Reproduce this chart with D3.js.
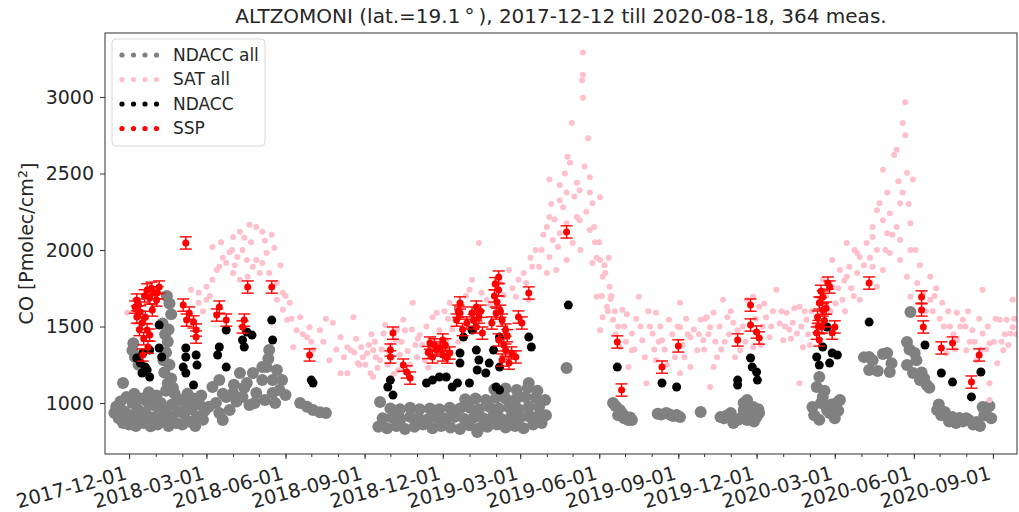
<!DOCTYPE html>
<html>
<head>
<meta charset="utf-8">
<script src="https://cdn.jsdelivr.net/npm/d3@7"></script>
<style>
  body { margin: 0; background: #fff; }
  svg { display: block; }
  text { font-family: "DejaVu Sans", sans-serif; }
</style>
</head>
<body>
<svg id="chart" width="1019" height="512"></svg>
<script>
// ---- data: [date, CO column in Pmolec/cm2] ----
const ndaccAll = [
  ["2017-11-14",935],["2017-11-16",975],["2017-11-19",900],["2017-11-21",1010],["2017-11-24",870],["2017-11-26",945],
  ["2017-11-28",1040],["2017-12-01",860],["2017-12-03",920],["2017-12-05",1000],["2017-12-07",1060],["2017-12-09",850],
  ["2017-12-11",960],["2017-12-13",895],["2017-12-15",1030],["2017-12-18",870],["2017-12-20",940],["2017-12-22",1010],
  ["2017-12-24",1070],["2017-12-26",848],["2017-12-28",905],["2017-12-30",985],["2018-01-02",1050],["2018-01-03",860],
  ["2018-01-05",930],["2018-01-07",1000],["2018-01-09",880],["2018-01-11",960],["2018-01-13",1080],["2018-01-15",1130],
  ["2018-01-16",850],["2018-01-18",915],["2018-01-20",990],["2018-01-23",1060],["2018-01-25",870],["2018-01-27",945],
  ["2018-01-29",1020],["2018-02-01",860],["2018-02-03",930],["2018-02-05",1000],["2018-02-07",1060],["2018-02-09",880],
  ["2018-02-12",960],["2018-02-14",1030],["2018-02-16",850],["2018-02-18",910],["2018-02-21",990],["2018-02-23",1050],
  ["2018-02-25",890],["2018-02-27",950],
  ["2017-11-24",1131],["2017-12-06",1390],["2017-12-05",1345],["2017-12-08",1300],["2017-12-12",1250],["2018-01-09",1520],
  ["2018-01-12",1450],["2018-01-15",1400],["2018-01-13",1330],["2018-01-17",1250],["2018-01-11",1200],["2018-01-19",1160],
  ["2018-01-14",1700],["2018-01-19",1580],["2018-01-17",1650],["2018-01-21",1100],["2018-01-10",1280],["2018-01-16",1480],
  ["2018-03-08",1105],["2018-03-16",1150],["2018-03-24",1040],["2018-03-12",1000],["2018-03-20",889],["2018-03-04",975],
  ["2018-04-01",1065],["2018-03-28",955],["2018-03-16",935],["2018-04-09",1196],["2018-04-17",1131],["2018-04-24",1196],
  ["2018-04-12",1040],["2018-04-28",1065],["2018-05-05",1235],["2018-04-20",987],["2018-04-05",1010],["2018-05-13",1346],
  ["2018-05-10",1235],["2018-05-17",1150],["2018-05-25",1085],["2018-05-17",1065],["2018-05-05",1150],["2018-06-01",1052],
  ["2018-05-22",1216],["2018-05-12",1290],["2018-03-20",1060],["2018-04-02",1120],["2018-04-14",1100],["2018-04-26",1000],
  ["2018-05-08",1020],["2018-05-20",1000],["2018-05-28",1150],
  ["2018-06-18",1000],["2018-06-26",975],["2018-07-03",955],["2018-07-11",940],["2018-07-18",935],
  ["2018-09-17",845],["2018-09-27",835],["2018-10-08",850],["2018-10-18",830],["2018-10-29",845],["2018-11-08",860],
  ["2018-11-19",835],["2018-11-29",850],["2018-12-10",840],["2018-12-21",830],["2019-01-01",855],["2019-01-12",835],
  ["2019-01-22",845],["2019-02-02",860],["2019-02-12",840],["2019-02-23",850],["2019-03-05",835],["2019-03-16",860],
  ["2019-03-26",870],
  ["2018-09-22",900],["2018-10-03",905],["2018-10-13",895],["2018-10-24",910],["2018-11-03",900],["2018-11-14",895],
  ["2018-11-24",905],["2018-12-05",900],["2018-12-15",910],["2018-12-26",895],["2019-01-06",905],["2019-01-17",900],
  ["2019-01-28",910],["2019-02-07",895],["2019-02-18",905],["2019-02-28",900],["2019-03-10",915],["2019-03-21",905],
  ["2019-03-31",920],
  ["2018-09-19",1007],["2018-10-01",965],["2018-10-12",960],["2018-10-24",970],["2018-11-04",960],["2018-11-16",965],
  ["2018-11-27",960],["2018-12-09",970],["2018-12-21",965],["2019-01-01",970],["2019-01-12",960],["2019-01-24",975],
  ["2019-02-04",965],["2019-02-16",970],["2019-02-27",960],["2019-03-11",975],["2019-03-23",974],
  ["2018-12-27",1025],["2019-01-08",1030],["2019-01-20",1020],["2019-02-01",1035],["2019-02-12",1030],["2019-02-24",1025],
  ["2019-03-07",1040],["2019-03-19",1035],["2019-03-30",1020],["2019-01-30",1090],["2019-02-12",1095],["2019-02-25",1085],
  ["2019-03-10",1100],["2019-03-21",1080],["2019-03-11",1131],["2019-04-24",1229],["2019-01-10",810],["2019-02-12",869],
  ["2019-03-15",908],
  ["2019-06-17",1000],["2019-06-25",955],["2019-07-02",908],["2019-07-05",889],["2019-07-09",889],["2019-06-28",930],
  ["2019-06-20",980],["2019-06-23",920],["2019-07-07",905],["2019-06-30",900],
  ["2019-08-08",930],["2019-08-12",925],["2019-08-22",925],["2019-08-26",915],
  ["2019-08-18",935],["2019-08-30",922],["2019-09-03",908],["2019-09-27",941],["2019-10-20",908],["2019-11-01",935],
  ["2019-11-09",889],["2019-11-16",954],["2019-11-20",1020],["2019-11-27",974],["2019-12-01",908],["2019-12-04",935],
  ["2019-11-04",869],["2019-11-20",889],["2019-10-28",920],["2019-10-24",900],["2019-11-12",900],["2019-11-24",950],
  ["2019-11-28",880],["2019-12-03",960],["2019-11-16",1000],
  ["2020-02-12",1170],["2020-02-09",1105],["2020-02-16",1040],["2020-02-04",974],["2020-02-21",954],["2020-03-03",1000],
  ["2020-03-07",1020],["2020-02-24",935],["2020-02-12",890],["2020-03-01",900],["2020-02-06",920],["2020-02-18",1080],
  ["2020-02-26",990],["2020-03-05",950],["2020-02-14",1000],["2020-02-28",960],
  ["2020-04-10",1301],["2020-05-01",1327],["2020-04-10",1216],["2020-05-04",1203],["2020-05-24",1399],["2020-05-28",1595],
  ["2020-04-04",1300],["2020-04-14",1280],["2020-04-20",1210],["2020-04-26",1320],["2020-05-06",1260],
  ["2020-06-02",1327],["2020-05-24",1248],["2020-05-31",1196],["2020-06-08",1150],["2020-06-16",1118],["2020-06-28",954],
  ["2020-06-04",1280],["2020-06-10",1200],["2020-06-13",1160],["2020-06-19",1100],["2020-05-27",1350],
  ["2020-07-16",908],["2020-08-04",889],["2020-08-13",876],["2020-08-20",974],["2020-08-24",954],["2020-07-07",941],
  ["2020-07-24",902],["2020-06-30",990],["2020-07-03",920],["2020-07-12",880],["2020-07-20",870],["2020-07-28",880],
  ["2020-08-01",900],["2020-08-09",860],["2020-08-17",850],["2020-08-22",920],["2020-08-28",980],["2020-08-30",900]
];

const satAll = [
  ["2017-11-29",1590],["2018-02-11",1740],["2018-02-20",1720],["2018-02-20",1655],["2018-03-01",1675],["2018-03-01",1760],
  ["2018-02-25",1600],["2018-03-05",1700],
  ["2018-03-08",2020],["2018-03-08",1805],["2018-03-13",1870],["2018-03-16",1890],["2018-03-18",2050],["2018-03-24",1915],
  ["2018-03-20",1950],["2018-03-31",2000],["2018-04-03",1900],["2018-04-14",2080],["2018-04-22",2050],["2018-05-08",2060],
  ["2018-05-13",1850],["2018-05-26",1900],["2018-06-01",1700],["2018-06-08",1550],["2018-06-21",1450],["2018-07-01",1400],
  ["2018-03-28",1985],["2018-04-01",2085],["2018-04-01",1850],["2018-04-06",1955],["2018-04-09",2120],["2018-04-09",1805],
  ["2018-04-12",2000],["2018-04-17",1935],["2018-04-18",1825],["2018-04-20",2165],["2018-04-24",1890],["2018-04-28",2150],
  ["2018-04-28",1935],["2018-05-02",1850],["2018-05-05",2120],["2018-05-05",1915],["2018-05-10",1980],["2018-05-16",2100],
  ["2018-05-19",2015],["2018-05-22",1785],["2018-05-22",1675],["2018-05-29",1720],["2018-05-29",1610],["2018-06-03",1545],
  ["2018-06-06",1655],["2018-06-10",1365],["2018-06-14",1475],["2018-06-18",1560],["2018-06-26",1430],["2018-06-29",1495],
  ["2018-07-04",1350],["2018-07-15",1400],["2018-07-18",1550],["2018-07-30",1350],
  ["2018-07-11",1475],["2018-07-22",1280],["2018-07-26",1525],["2018-08-04",1430],["2018-08-04",1195],["2018-08-12",1365],
  ["2018-08-19",1560],["2018-08-08",1300],["2018-08-16",1345],["2018-08-24",1260],["2018-08-28",1365],["2018-08-12",1195],
  ["2018-08-20",1330],["2018-08-22",1420],["2018-08-30",1300],["2018-09-02",1250],["2018-09-06",1380],["2018-09-09",1450],
  ["2018-09-14",1300],["2018-09-16",1230],["2018-09-21",1350],["2018-09-28",1250],["2018-10-03",1300],["2018-10-05",1190],
  ["2018-10-14",1400],["2018-10-21",1340],["2018-10-26",1480],["2018-11-01",1300],["2018-11-07",1380],["2018-11-12",1500],
  ["2018-11-21",1420],["2018-11-29",1350],["2018-12-03",1600],["2018-12-12",1480],["2018-12-19",1400],
  ["2018-08-26",1250],["2018-09-13",1400],["2018-09-30",1330],["2018-10-09",1480],["2018-10-19",1200],["2018-11-02",1420],
  ["2018-11-14",1230],["2018-12-07",1550],
  ["2018-09-04",1325],["2018-09-08",1195],["2018-09-11",1345],["2018-09-11",1170],["2018-09-19",1280],["2018-09-23",1455],
  ["2018-09-25",1510],["2018-10-01",1380],["2018-10-07",1410],["2018-10-10",1215],["2018-10-12",1315],["2018-10-16",1545],
  ["2018-10-18",1475],["2018-10-24",1250],["2018-10-27",1655],["2018-10-30",1380],["2018-11-04",1445],["2018-11-10",1280],
  ["2018-11-16",1345],["2018-11-19",1560],["2018-11-24",1590],["2018-11-27",1475],["2018-12-05",1410],["2018-12-09",1655],
  ["2018-12-15",1545],["2018-12-23",1640],["2019-01-01",1740],["2019-01-04",1805],["2019-01-12",2045],["2019-01-10",1610],
  ["2018-12-28",1700],["2019-01-07",1550],["2019-01-15",1720],["2019-01-25",1640],["2019-02-05",1800],["2019-02-20",1750],
  ["2019-03-05",1850],["2019-03-13",1950],["2019-03-28",2100],["2019-04-06",2300],["2019-04-10",2200],["2019-04-20",2280],
  ["2019-04-14",2020],["2019-04-22",2500],["2019-05-03",2350],["2019-05-17",2250],["2019-05-26",2150],["2019-05-10",2000],
  ["2019-05-27",2050],["2019-06-07",1900],["2019-06-15",1700],["2019-06-20",1450],
  ["2019-01-21",1675],["2019-01-30",1770],["2019-02-10",1705],["2019-02-16",1870],["2019-02-24",1695],["2019-02-27",1805],
  ["2019-03-08",1785],["2019-03-11",1675],["2019-03-15",1890],["2019-03-19",2000],["2019-03-23",1890],["2019-03-26",2000],
  ["2019-04-01",2150],["2019-04-01",1850],["2019-04-04",2215],["2019-04-04",2460],["2019-04-04",1955],["2019-04-08",2065],
  ["2019-04-12",1870],["2019-04-16",2425],["2019-04-16",2325],["2019-04-16",2110],["2019-04-24",2375],["2019-04-24",2175],
  ["2019-04-24",1935],["2019-04-28",2570],["2019-04-25",2610],["2019-04-30",2830],["2019-05-01",2045],["2019-05-06",2440],
  ["2019-05-06",2215],["2019-05-09",2390],["2019-05-09",2195],["2019-05-12",3110],["2019-05-13",3290],["2019-05-13",3145],
  ["2019-05-13",2995],["2019-05-15",2545],["2019-05-19",2730],["2019-05-21",2475],["2019-05-21",2375],["2019-05-21",2130],
  ["2019-05-24",2305],["2019-05-24",1915],["2019-05-29",1950],["2019-05-29",1695],["2019-06-02",2345],["2019-06-02",1935],
  ["2019-06-02",1475],["2019-06-05",1825],["2019-06-05",1560],["2019-06-10",1630],["2019-06-13",1760],["2019-06-17",1545],
  ["2019-06-01",2050],["2019-06-04",1700],["2019-06-08",1850],["2019-06-11",1600],["2019-06-14",1680],["2019-06-19",1600],
  ["2019-06-23",1500],["2019-06-12",1950],
  ["2019-06-25",1365],["2019-06-28",1610],["2019-07-05",1235],["2019-07-09",1455],["2019-07-09",1345],["2019-07-17",1695],
  ["2019-06-30",1500],["2019-07-02",1400],["2019-07-12",1350],["2019-07-14",1550],["2019-07-24",1300],["2019-07-30",1500],
  ["2019-08-09",1400],["2019-08-16",1350],["2019-08-25",1450],["2019-08-28",1300],["2019-09-06",1380],["2019-09-10",1550],
  ["2019-09-19",1480],["2019-10-01",1350],["2019-10-06",1450],["2019-10-19",1500],["2019-10-25",1400],["2019-11-01",1600],
  ["2019-11-15",1500],["2019-11-30",1550],["2019-12-08",1500],["2019-12-20",1600],["2019-12-28",1520],
  ["2019-07-03",1580],["2019-07-19",1500],["2019-07-28",1600],["2019-08-04",1350],["2019-08-11",1500],["2019-08-19",1250],
  ["2019-08-31",1500],["2019-09-08",1300],["2019-09-12",1450],["2019-09-25",1450],["2019-10-02",1550],["2019-10-14",1400],
  ["2019-10-21",1350],["2019-10-30",1450],["2019-11-06",1300],["2019-11-18",1400],["2019-12-06",1380],["2019-12-10",1650],
  ["2019-12-18",1500],["2019-12-30",1600],
  ["2019-07-21",1410],["2019-07-26",1130],["2019-08-02",1455],["2019-08-06",1590],["2019-08-06",1280],["2019-08-13",1410],
  ["2019-08-21",1545],["2019-09-03",1655],["2019-09-03",1495],["2019-09-03",1195],["2019-09-15",1430],["2019-09-15",1235],
  ["2019-09-23",1345],["2019-09-27",1545],["2019-09-30",1410],["2019-10-04",1560],["2019-10-08",1495],["2019-10-08",1105],
  ["2019-10-12",1590],["2019-10-12",1235],["2019-10-16",1300],["2019-10-23",1675],["2019-10-28",1560],["2019-11-04",1525],
  ["2019-11-09",1475],["2019-11-12",1345],["2019-11-20",1675],["2019-11-27",1695],["2019-11-27",1365],["2019-12-04",1630],
  ["2019-12-12",1560],["2019-12-16",1430],["2019-12-24",1740],["2020-01-01",1410],["2020-01-05",1590],["2020-01-12",1525],
  ["2020-01-17",1455],["2020-01-20",1630],["2020-01-24",1365],["2020-01-20",1130],["2020-01-28",1545],["2020-02-12",1675],
  ["2020-01-03",1500],["2020-01-10",1420],["2020-01-22",1500],["2020-01-26",1600],["2020-02-01",1380],["2020-02-25",1600],
  ["2020-03-02",1650],["2020-03-13",1600],["2020-03-23",1700],
  ["2020-01-08",1480],["2020-01-14",1620],["2020-01-30",1450],["2020-02-03",1600],["2020-02-07",1500],["2020-02-20",1700],
  ["2020-03-05",1750],["2020-03-12",1800],["2020-03-20",1750],["2020-03-24",2000],["2020-04-04",1900],["2020-04-11",1950],
  ["2020-04-29",2000],["2020-05-07",2100],["2020-05-14",2450],["2020-05-26",2300],["2020-06-03",2000],["2020-06-08",1900],
  ["2020-06-15",1600],["2020-06-25",1700],["2020-07-01",1550],["2020-07-13",1500],["2020-07-17",1450],["2020-07-31",1500],
  ["2020-08-05",1400],["2020-08-16",1550],["2020-08-24",1350],["2020-09-02",1400],["2020-09-15",1450],["2020-09-26",1550],
  ["2020-06-23",1600],["2020-06-27",1750],["2020-07-06",1500],["2020-07-11",1600],["2020-07-19",1350],["2020-07-25",1500],
  ["2020-08-03",1600],["2020-08-11",1400],["2020-08-18",1350],["2020-08-26",1500],["2020-09-04",1550],["2020-09-11",1400],
  ["2020-09-19",1380],["2020-09-28",1450],
  ["2020-02-16",1805],["2020-02-27",1760],["2020-02-27",1935],["2020-03-07",1870],["2020-03-10",1675],["2020-03-15",2045],
  ["2020-03-15",1825],["2020-03-18",1890],["2020-03-27",1980],["2020-03-27",1850],["2020-03-30",1955],["2020-03-30",1675],
  ["2020-04-07",2045],["2020-04-14",2150],["2020-04-14",2085],["2020-04-14",1890],["2020-04-19",2260],["2020-04-19",2000],
  ["2020-04-19",1760],["2020-04-22",2305],["2020-04-26",2525],["2020-04-26",2195],["2020-04-26",1870],["2020-05-01",2375],
  ["2020-05-01",2110],["2020-05-04",2240],["2020-05-04",1980],["2020-05-09",2620],["2020-05-12",2655],["2020-05-12",2150],
  ["2020-05-16",2305],["2020-05-16",2065],["2020-05-16",1935],["2020-05-19",2830],["2020-05-19",2375],["2020-05-22",2965],
  ["2020-05-22",2750],["2020-05-24",2505],["2020-05-24",1825],["2020-05-28",2175],["2020-05-28",2000],["2020-05-28",1695],
  ["2020-05-31",2460],["2020-06-05",1785],["2020-06-12",1720],["2020-06-20",1825],["2020-06-20",1675],["2020-07-04",1655],
  ["2020-07-09",1325],["2020-07-21",1590],["2020-07-21",1410],["2020-07-28",1545],["2020-08-01",1345],["2020-08-08",1475],
  ["2020-08-13",1280],["2020-08-20",1740],["2020-08-20",1455],["2020-08-28",1390],["2020-08-28",1130],["2020-08-28",1020],
  ["2020-09-06",1260],["2020-09-09",1545],["2020-09-13",1345],["2020-09-17",1545],["2020-09-21",1455],["2020-09-24",1675],
  ["2020-09-24",1495]
];

const ndacc = [
  ["2017-12-17",1327],["2017-12-25",1346],["2017-12-14",1261],["2017-12-22",1216],["2017-12-16",1196],["2017-12-25",1170],
  ["2017-12-20",1235],["2017-12-10",1294],["2018-01-05",1510],["2018-01-08",1301],["2018-01-05",1360],
  ["2018-02-05",1360],["2018-02-05",1301],["2018-02-17",1314],["2018-02-18",1248],["2018-02-05",1196],["2018-02-14",1118],
  ["2018-02-02",1235],["2018-03-24",1477],["2018-03-16",1366],["2018-03-14",1314],["2018-03-24",1235],
  ["2018-04-17",1464],["2018-04-12",1412],["2018-04-14",1366],["2018-04-23",1444],["2018-05-16",1542],["2018-05-17",1412],
  ["2018-07-03",1131],["2018-07-01",1150],["2018-10-01",1150],["2018-10-04",1052],["2018-09-28",1105],
  ["2018-11-12",1131],["2018-11-19",1150],["2018-11-27",1170],["2018-12-05",1170],["2018-12-12",1105],["2018-12-18",1131],
  ["2018-12-25",1431],["2018-12-21",1327],["2018-12-21",1261],["2019-01-01",1131],["2019-01-09",1346],["2019-01-12",1281],
  ["2019-01-10",1216],["2019-01-20",1196],["2019-01-29",1346],["2019-01-24",1261],["2019-02-05",1235],["2019-02-01",1105],
  ["2019-02-05",1085],["2019-03-11",1431],["2019-03-14",1366],["2019-01-04",1477],["2019-02-05",1431],
  ["2019-04-26",1640],["2019-06-22",1235],["2019-08-13",1131],["2019-08-30",1105],["2019-11-09",1150],["2019-11-09",1118],
  ["2019-11-24",1294],["2019-11-26",1235],["2019-12-01",1203],["2019-12-02",1150],
  ["2020-02-21",1497],["2020-02-16",1366],["2020-02-09",1301],["2020-02-12",1248],["2020-02-27",1327],["2020-03-04",1314],
  ["2020-02-24",1261],["2020-04-10",1529],["2020-06-14",1379],["2020-07-03",1196],["2020-07-16",1137],["2020-08-07",1040],
  ["2020-08-18",1203]
];

// SSP: [date, value, uncertainty]
const ssp = [
  ["2017-12-08",1627,40],["2017-12-10",1562,40],["2017-12-10",1673,40],["2017-12-14",1595,40],["2017-12-16",1523,40],
  ["2017-12-17",1314,40],["2017-12-22",1739,40],["2017-12-22",1477,40],["2017-12-23",1366,40],["2017-12-25",1686,40],
  ["2017-12-25",1444,40],["2017-12-28",1608,40],["2017-12-31",1719,40],["2018-01-02",1673,40],["2018-01-05",1758,40],
  ["2017-12-12",1640,40],["2017-12-19",1700,40],["2017-12-27",1750,40],["2018-01-03",1720,40],["2017-12-20",1560,40],
  ["2017-12-13",1480,40],["2017-12-18",1420,40],
  ["2018-02-05",2046,40],["2018-02-02",1640,40],["2018-02-06",1542,40],["2018-02-09",1588,40],["2018-02-14",1530,40],
  ["2018-02-17",1477,40],["2018-02-17",1431,40],["2018-03-13",1575,40],["2018-03-16",1627,40],["2018-03-24",1542,40],
  ["2018-04-18",1758,40],["2018-04-14",1542,40],["2018-04-12",1497,40],["2018-05-16",1758,40],["2018-06-29",1314,40],
  ["2018-10-04",1457,40],["2018-10-01",1346,40],["2018-10-01",1301,40],["2018-10-16",1248,40],["2018-10-20",1203,40],
  ["2018-10-24",1163,40],["2018-11-16",1392,40],["2018-11-24",1346,40],["2018-11-19",1301,40],["2018-12-01",1412,40],
  ["2018-12-01",1314,40],["2018-12-09",1327,40],["2018-11-21",1380,40],["2018-11-28",1360,40],["2018-12-04",1380,40],
  ["2018-12-06",1300,40],["2018-11-14",1330,40],
  ["2018-12-21",1654,40],["2018-12-21",1588,40],["2018-12-17",1542,40],["2018-12-29",1523,40],["2018-12-19",1600,40],
  ["2018-12-24",1480,40],["2019-01-06",1540,40],["2019-01-14",1600,40],["2019-01-30",1700,40],["2019-02-06",1600,40],
  ["2019-02-10",1380,40],["2019-02-14",1440,40],["2019-01-31",1780,40],
  ["2019-01-09",1627,40],["2019-01-12",1562,40],["2019-01-09",1497,40],["2019-01-16",1457,40],
  ["2019-01-04",1588,40],["2019-02-04",1823,40],["2019-02-04",1739,40],["2019-02-02",1660,40],["2019-02-01",1588,40],
  ["2019-02-08",1542,40],["2019-01-27",1523,40],["2019-02-12",1477,40],["2019-02-04",1412,40],["2019-02-12",1346,40],
  ["2019-02-19",1327,40],["2019-02-16",1261,40],["2019-02-24",1301,40],["2019-02-08",1281,40],["2019-02-27",1562,40],
  ["2019-03-03",1523,40],["2019-03-11",1719,40],["2019-04-24",2118,40],["2019-06-22",1399,40],["2019-06-27",1085,40],
  ["2019-08-13",1235,40],["2019-09-01",1373,40],["2019-11-09",1412,40],["2019-11-24",1640,40],["2019-11-24",1510,40],
  ["2019-12-01",1464,40],["2019-12-04",1425,40],["2020-02-22",1784,40],["2020-02-16",1693,40],["2020-02-12",1654,40],
  ["2020-02-16",1608,40],["2020-02-10",1562,40],["2020-02-15",1497,40],["2020-02-09",1457,40],["2020-02-12",1412,40],
  ["2020-02-14",1730,40],["2020-02-18",1540,40],["2020-02-20",1620,40],["2020-02-11",1500,40],
  ["2020-03-01",1497,40],["2020-02-27",1457,40],["2020-02-24",1758,40],["2020-04-10",1784,40],["2020-06-10",1693,40],
  ["2020-06-10",1608,40],["2020-06-12",1497,40],["2020-07-03",1360,40],["2020-07-16",1392,40],["2020-08-16",1314,40],
  ["2020-08-07",1137,40]
];

const yTickValues = [1000, 1500, 2000, 2500, 3000];
const xTickLabels = ["2017-12-01","2018-03-01","2018-06-01","2018-09-01","2018-12-01","2019-03-01",
                     "2019-06-01","2019-09-01","2019-12-01","2020-03-01","2020-06-01","2020-09-01"];
const seriesNames = ["NDACC all", "SAT all", "NDACC", "SSP"];
const seriesColors = ["#808080", "#ffc0cb", "#000000", "#ff0000"];
const titleText = "ALTZOMONI (lat.=19.1\u2009\u00B0\u2009), 2017-12-12 till 2020-08-18, 364 meas.";

// ---- layout ----
const frame = { left: 105, top: 33, right: 1017, bottom: 454 };
const parse = d3.timeParse("%Y-%m-%d");
const svg = d3.select("#chart");

const x = d3.scaleTime()
  .domain([parse("2017-11-03"), parse("2020-09-29")])
  .range([frame.left, frame.right]);
const y = d3.scaleLinear()
  .domain([667, 3418])
  .range([frame.bottom, frame.top]);

svg.append("defs").append("clipPath").attr("id", "plotClip")
  .append("rect")
  .attr("x", frame.left).attr("y", frame.top)
  .attr("width", frame.right - frame.left).attr("height", frame.bottom - frame.top);

const plot = svg.append("g").attr("clip-path", "url(#plotClip)");

// NDACC all
plot.append("g").selectAll("circle").data(ndaccAll).join("circle")
  .attr("cx", d => x(parse(d[0]))).attr("cy", d => y(d[1]))
  .attr("r", 6).attr("fill", seriesColors[0]);

// SAT all
plot.append("g").selectAll("circle").data(satAll).join("circle")
  .attr("cx", d => x(parse(d[0]))).attr("cy", d => y(d[1]))
  .attr("r", 3).attr("fill", seriesColors[1]);

// NDACC coincident
plot.append("g").selectAll("circle").data(ndacc).join("circle")
  .attr("cx", d => x(parse(d[0]))).attr("cy", d => y(d[1]))
  .attr("r", 4.5).attr("fill", seriesColors[2]);

// SSP with error bars
const sspG = plot.append("g");
const eb = sspG.selectAll("g").data(ssp).join("g")
  .attr("stroke", seriesColors[3]).attr("stroke-width", 1.4);
eb.append("line")
  .attr("x1", d => x(parse(d[0]))).attr("x2", d => x(parse(d[0])))
  .attr("y1", d => y(d[1] - d[2])).attr("y2", d => y(d[1] + d[2]));
eb.append("line")
  .attr("x1", d => x(parse(d[0])) - 6).attr("x2", d => x(parse(d[0])) + 6)
  .attr("y1", d => y(d[1] + d[2])).attr("y2", d => y(d[1] + d[2]));
eb.append("line")
  .attr("x1", d => x(parse(d[0])) - 6).attr("x2", d => x(parse(d[0])) + 6)
  .attr("y1", d => y(d[1] - d[2])).attr("y2", d => y(d[1] - d[2]));
sspG.append("g").selectAll("circle").data(ssp).join("circle")
  .attr("cx", d => x(parse(d[0]))).attr("cy", d => y(d[1]))
  .attr("r", 3.5).attr("fill", seriesColors[3]);

// ---- axes ----
const axisColor = "#333";
const textColor = "#262626";

// frame
svg.append("rect")
  .attr("x", frame.left).attr("y", frame.top)
  .attr("width", frame.right - frame.left).attr("height", frame.bottom - frame.top)
  .attr("fill", "none").attr("stroke", axisColor).attr("stroke-width", 1);

// y axis
const yAxis = d3.axisLeft(y).tickValues(yTickValues).tickSize(5).tickPadding(6).tickFormat(d3.format("d"));
const yg = svg.append("g").attr("transform", `translate(${frame.left},0)`).call(yAxis);
yg.select(".domain").remove();
yg.selectAll(".tick line").attr("stroke", axisColor);
yg.selectAll(".tick text").attr("fill", textColor).style("font-size", "19px")
  .style("font-family", "'DejaVu Sans', sans-serif");

// x axis: monthly minor ticks, quarterly labelled ticks
const minorTicks = d3.timeMonth.range(parse("2017-11-03"), parse("2020-09-29"));
const xMinor = d3.axisBottom(x).tickValues(minorTicks).tickSize(3).tickFormat("");
const xmg = svg.append("g").attr("transform", `translate(0,${frame.bottom})`).call(xMinor);
xmg.select(".domain").remove();
xmg.selectAll(".tick line").attr("stroke", axisColor);

const majorDates = xTickLabels.map(parse);
const xMajor = d3.axisBottom(x).tickValues(majorDates).tickSize(5).tickFormat("");
const xg = svg.append("g").attr("transform", `translate(0,${frame.bottom})`).call(xMajor);
xg.select(".domain").remove();
xg.selectAll(".tick line").attr("stroke", axisColor);

svg.append("g").selectAll("text").data(xTickLabels).join("text")
  .attr("transform", d => `translate(${x(parse(d)) - 1},${frame.bottom + 25}) rotate(-15)`)
  .attr("text-anchor", "end")
  .attr("fill", textColor)
  .style("font-size", "19.5px")
  .text(d => d);

// y label
const ylab = svg.append("text")
  .attr("transform", `translate(33,${(frame.top + frame.bottom) / 2}) rotate(-90)`)
  .attr("text-anchor", "middle")
  .attr("fill", textColor)
  .style("font-size", "19px");
ylab.append("tspan").text("CO [Pmolec/cm");
ylab.append("tspan").attr("dy", "-0.45em").style("font-size", "13px").text("2");
ylab.append("tspan").attr("dy", "0.45em").text("]");

// title
svg.append("text")
  .attr("x", (frame.left + frame.right) / 2).attr("y", 23)
  .attr("text-anchor", "middle").attr("fill", textColor)
  .style("font-size", "20px")
  .text(titleText);

// ---- legend ----
const lg = svg.append("g");
lg.append("rect")
  .attr("x", 112).attr("y", 39).attr("width", 153).attr("height", 107)
  .attr("rx", 4).attr("fill", "#fff").attr("fill-opacity", 0.85)
  .attr("stroke", "#d8d8d8").attr("stroke-width", 1);
const rows = lg.selectAll("g.row").data(seriesNames).join("g")
  .attr("class", "row")
  .attr("transform", (d, i) => `translate(0,${55 + i * 24.5})`);
rows.each(function(d, i) {
  const g = d3.select(this);
  [122, 133.5, 145, 156.5].forEach(cx => {
    g.append("circle").attr("cx", cx).attr("cy", 0).attr("r", 2.6).attr("fill", seriesColors[i]);
  });
  g.append("text").attr("x", 173).attr("y", 0).attr("dy", "0.35em")
    .attr("fill", textColor).style("font-size", "17px").text(d);
});
</script>
</body>
</html>
